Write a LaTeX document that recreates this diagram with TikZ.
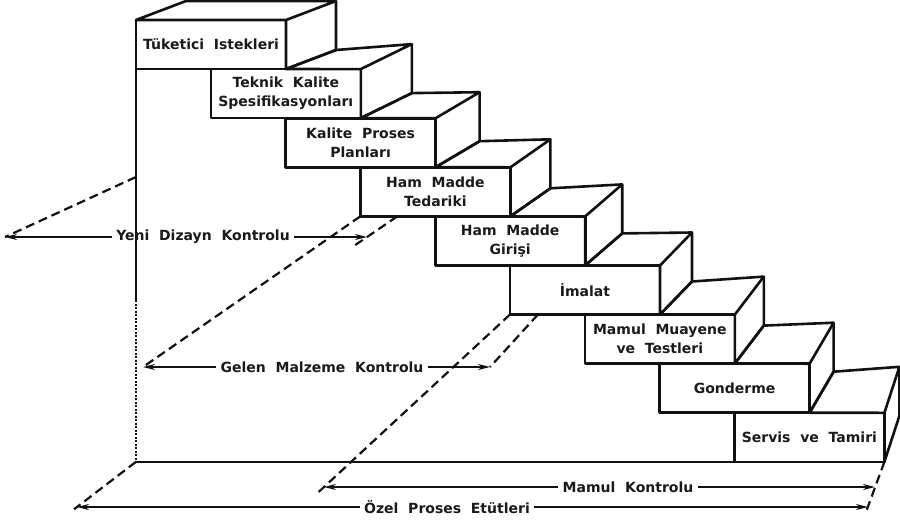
\documentclass[tikz,border=0pt]{standalone}
\usepackage{fontspec}
\setmainfont{DejaVu Sans}[WordSpace=2]
\usetikzlibrary{calc}
\usetikzlibrary{arrows.meta}
\definecolor{color_stair_line}{HTML}{111111}
\definecolor{color_stair_text}{HTML}{1A1A1A}
\def\stairlinewidth{2.6pt}
\def\rangelinewidth{1.8pt}
\def\stairlabelsize{\fontsize{14}{19}\selectfont\bfseries}
\tikzset{
    stairline/.style={color_stair_line,line width=\stairlinewidth},
    stairlabel/.style={color_stair_text,align=center,font=\stairlabelsize,inner sep=1pt},
    rangelabel/.style={color_stair_text,font=\stairlabelsize,inner sep=4pt},
    rangeline/.style={color_stair_line,line width=\rangelinewidth,-{Stealth[length=12pt,width=6pt]}},
    projline/.style={color_stair_line,line width=2.2pt,dash pattern=on 9pt off 5pt},
}
\def\controlrange[#1](#2,#3,#4,#5)#6{
    \coordinate (#1-l) at (#2,#5);
    \coordinate (#1-r) at (#4,#5);
    \node[rangelabel] (#1) at (#3,#5) {#6};
    \draw[rangeline] (#1.west) -- (#1-l);
    \draw[rangeline] (#1.east) -- (#1-r);
}

\begin{document}
\begin{tikzpicture}[x=1pt,y=-1pt,line join=round]
    \useasboundingbox (0,0) rectangle (900,523);
    % floor corner in front of step 1
    \coordinate (s0-br) at (136,20);
    \coordinate (s0-kb) at (186,1);
    % the steps
    \foreach \i/\dx/\dy/\txt in {
        1/50/-19/{Tüketici Istekleri},
        2/51/-25/{Teknik Kalite\\Spesifikasyonları},
        3/44/-26/{Kalite Proses\\Planları},
        4/40/-28/{Ham Madde\\Tedariki},
        5/37/-32/{Ham Madde\\Girişi},
        6/32/-33/{İmalat},
        7/29/-38/{Mamul Muayene\\ve Testleri},
        8/24/-41/{Gonderme},
        9/15/-46/{Servis ve Tamiri}}{
        \pgfmathsetmacro\stepleft{136+74.8*(\i-1)}
        \pgfmathsetmacro\steptop{20+49.1*(\i-1)}
        \pgfmathtruncatemacro\j{\i-1}
        \coordinate (s\i-tl) at (\stepleft,\steptop);
        \coordinate (s\i-tr) at (\stepleft+150,\steptop);
        \coordinate (s\i-bl) at (\stepleft,\steptop+49);
        \coordinate (s\i-br) at (\stepleft+150,\steptop+49);
        \coordinate (s\i-kt) at ($(s\i-tr)+(\dx,\dy)$);
        \coordinate (s\i-kb) at ($(s\i-br)+(\dx,\dy)$);
        \draw[stairline] (s\j-br) -- (s\i-tr) -- (s\i-kt) -- (s\j-kb) -- cycle;
        \draw[stairline] (s\i-tr) -- (s\i-br) -- (s\i-kb) -- (s\i-kt);
        \draw[stairline] (s\i-tl) rectangle (s\i-br);
        \node[stairlabel] (step\i) at ($(s\i-tl)!0.5!(s\i-br)$) {\txt};
    }
    % base of the stair
    \coordinate (base) at (s1-tl |- s9-bl);
    \coordinate (leftmid) at (136,300);
    \draw[color_stair_line,line width=2pt] (s1-bl) -- (leftmid);
    \draw[color_stair_line,line width=1.6pt,dash pattern=on 2pt off 1.5pt] (leftmid) -- (base);
    \draw[stairline] (base) -- (s9-bl);
    % control ranges
    \controlrange[yd](5,203,367,237){Yeni Dizayn Kontrolu}
    \controlrange[gm](143,322,490,367){Gelen Malzeme Kontrolu}
    \controlrange[mk](324,628,875,487){Mamul Kontrolu}
    \controlrange[oz](77,447,868,507){Özel Proses Etütleri}
    % projection lines
    \coordinate (yd-a) at (136,177);
    \coordinate (yd-b) at ($(s4-bl)+(37,0)$);
    \coordinate (gm-b) at ($(s6-bl)+(28,0)$);
    \coordinate (pr-end) at (866,512);
    \draw[projline] (yd-a) -- (yd-l);
    \draw[projline] (yd-b) -- ($(yd-b)!1.4!(yd-r)$);
    \draw[projline] (s4-bl) -- (gm-l);
    \draw[projline] (gm-b) -- (gm-r);
    \draw[projline] (s6-bl) -- ($(s6-bl)!1.03!(mk-l)$);
    \draw[projline] (base) -- ($(base)!1.05!(oz-l)$);
    \draw[projline] (s9-br) -- (pr-end);
\end{tikzpicture}
\end{document}
